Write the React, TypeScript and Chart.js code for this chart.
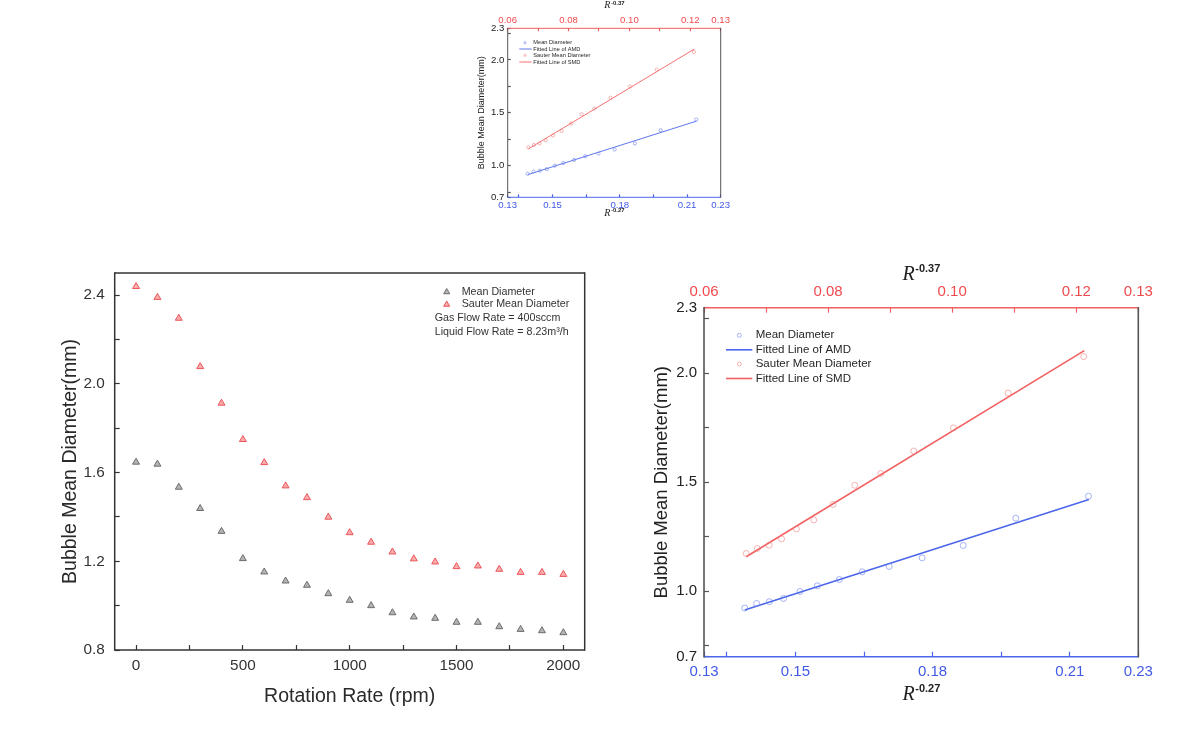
import React, { useEffect, useRef } from 'react';
import { Chart, registerables } from 'chart.js';

Chart.register(...registerables);

// left panel: bubble diameter against rotation rate
const rotationRate = [0, 100, 200, 300, 400, 500, 600, 700, 800, 900, 1000, 1100, 1200, 1300, 1400, 1500, 1600, 1700, 1800, 1900, 2000];
const meanDiameter = [1.647, 1.638, 1.534, 1.438, 1.335, 1.212, 1.152, 1.111, 1.092, 1.054, 1.024, 1.0, 0.968, 0.949, 0.943, 0.925, 0.925, 0.905, 0.893, 0.887, 0.878];
const sauterDiameter = [2.439, 2.39, 2.296, 2.078, 1.913, 1.749, 1.645, 1.54, 1.487, 1.399, 1.329, 1.286, 1.242, 1.211, 1.197, 1.176, 1.179, 1.164, 1.15, 1.15, 1.141];

const rpmTicks = [0, 250, 500, 750, 1000, 1250, 1500, 1750, 2000];
const rpmTickLabels = ['0', '', '500', '', '1000', '', '1500', '', '2000'];
const diamTicks = [0.8, 1.0, 1.2, 1.4, 1.6, 1.8, 2.0, 2.2, 2.4];
const diamTickLabels = ['0.8', '', '1.2', '', '1.6', '', '2.0', '', '2.4'];

// right panels: diameter against R^-0.27 (AMD) and R^-0.37 (SMD)
const amdR = [0.1389, 0.1415, 0.1443, 0.1474, 0.151, 0.1548, 0.1596, 0.1646, 0.1705, 0.1777, 0.1867, 0.1982, 0.2141];
const amdDiameter = [0.923, 0.944, 0.952, 0.967, 0.999, 1.025, 1.054, 1.089, 1.114, 1.153, 1.21, 1.335, 1.436];
const smdR = [0.0668, 0.0686, 0.0705, 0.0725, 0.0749, 0.0777, 0.0808, 0.0843, 0.0885, 0.0938, 0.1002, 0.109, 0.1212];
const smdDiameter = [1.173, 1.196, 1.211, 1.24, 1.286, 1.327, 1.398, 1.486, 1.54, 1.643, 1.749, 1.909, 2.076];
const amdFitR = [0.1389, 0.2142];
const amdFitDiameter = [0.914, 1.421];
const smdFitR = [0.0668, 0.1213];
const smdFitDiameter = [1.158, 2.103];

const r027Ticks = [0.13, 0.135, 0.15, 0.165, 0.18, 0.195, 0.21, 0.225];
const r027TickLabels = ['0.13', '', '0.15', '', '0.18', '', '0.21', '0.23'];
const r037Ticks = [0.06, 0.07, 0.08, 0.09, 0.1, 0.11, 0.12, 0.13];
const r037TickLabels = ['0.06', '', '0.08', '', '0.10', '', '0.12', '0.13'];
const fitDiamTicks = [0.7, 0.75, 1.0, 1.25, 1.5, 1.75, 2.0, 2.25, 2.3];
const fitDiamTickLabels = ['0.7', '', '1.0', '', '1.5', '', '2.0', '', '2.3'];

const SANS = '"Liberation Sans", Arial, sans-serif';
const SERIF = '"Liberation Serif", "Times New Roman", serif';
const RED = '#f04a4e';
const BLUE = '#4159e6';
const RED_LINE = '#f26062';
const BLUE_LINE = '#4b66ea';
const AMD_DOT = 'rgba(110,130,235,0.6)';
const SMD_DOT = 'rgba(240,130,130,0.6)';

const pairs = (xs: number[], ys: number[]) => xs.map((x, i) => ({ x, y: ys[i] }));

const setTicks = (values: number[]) => (scale: any) => {
  scale.ticks = values.map((value) => ({ value }));
};

// force the axis box to a fixed size so the plot area lands where we want it
const fixedBox = (size: number) => (scale: any) => {
  if (scale.isHorizontal()) scale.height = size;
  else scale.width = size;
  scale.paddingLeft = 0;
  scale.paddingRight = 0;
  scale.paddingTop = 0;
  scale.paddingBottom = 0;
};

function axis(o: {
  position: string; min: number; max: number; ticks: number[]; labels: string[];
  color: string; tickColor: string; box: number; font: number; tickLen: number; pad: number;
}) {
  return {
    type: 'linear',
    position: o.position,
    min: o.min,
    max: o.max,
    afterBuildTicks: setTicks(o.ticks),
    afterFit: fixedBox(o.box),
    border: { display: false },
    grid: { drawOnChartArea: false, drawTicks: true, tickLength: -o.tickLen, tickColor: o.tickColor, tickWidth: 1.2 },
    ticks: {
      autoSkip: false,
      maxRotation: 0,
      padding: o.pad,
      color: o.color,
      font: { family: SANS, size: o.font },
      callback: (_v: any, i: number) => o.labels[i] ?? '',
    },
  };
}

type Area = { left: number; right: number; top: number; bottom: number };

function frame(ctx: CanvasRenderingContext2D, a: Area, c: { top: string; right: string; bottom: string; left: string }, w: number) {
  const seg = (color: string, x1: number, y1: number, x2: number, y2: number) => {
    ctx.strokeStyle = color;
    ctx.lineWidth = w;
    ctx.beginPath();
    ctx.moveTo(x1, y1);
    ctx.lineTo(x2, y2);
    ctx.stroke();
  };
  seg(c.top, a.left, a.top, a.right, a.top);
  seg(c.bottom, a.left, a.bottom, a.right, a.bottom);
  seg(c.left, a.left, a.top - w / 2, a.left, a.bottom + w / 2);
  seg(c.right, a.right, a.top - w / 2, a.right, a.bottom + w / 2);
}

function label(ctx: CanvasRenderingContext2D, s: string, x: number, y: number, font: string, color: string, align: CanvasTextAlign = 'left') {
  ctx.font = font;
  ctx.fillStyle = color;
  ctx.textAlign = align;
  ctx.textBaseline = 'middle';
  ctx.fillText(s, x, y);
}

function vlabel(ctx: CanvasRenderingContext2D, s: string, x: number, y: number, font: string, color: string) {
  ctx.save();
  ctx.translate(x, y);
  ctx.rotate(-Math.PI / 2);
  label(ctx, s, 0, 0, font, color, 'center');
  ctx.restore();
}

// italic R with a bold superscript exponent, centred on cx
function power(ctx: CanvasRenderingContext2D, exp: string, cx: number, baseY: number, expY: number, rSize: number, eSize: number) {
  const rFont = `italic ${rSize}px ${SERIF}`;
  const eFont = `bold ${eSize}px ${SANS}`;
  ctx.font = rFont;
  const rw = ctx.measureText('R').width;
  ctx.font = eFont;
  const ew = ctx.measureText(exp).width;
  const x0 = cx - (rw + ew) / 2;
  ctx.fillStyle = '#222';
  ctx.textAlign = 'left';
  ctx.textBaseline = 'alphabetic';
  ctx.font = rFont;
  ctx.fillText('R', x0, baseY);
  ctx.font = eFont;
  ctx.fillText(exp, x0 + rw + 0.5, expY);
}

function triangle(ctx: CanvasRenderingContext2D, x: number, y: number, r: number, fill: string, stroke: string) {
  ctx.beginPath();
  ctx.moveTo(x, y - r);
  ctx.lineTo(x + r * 0.866, y + r / 2);
  ctx.lineTo(x - r * 0.866, y + r / 2);
  ctx.closePath();
  ctx.fillStyle = fill;
  ctx.fill();
  ctx.strokeStyle = stroke;
  ctx.lineWidth = 1;
  ctx.stroke();
}

const GRAY_FILL = '#b4b4b4';
const GRAY_STROKE = '#6c6c6c';
const PINK_FILL = '#f7adad';
const PINK_STROKE = '#ec5458';

function buildRpmChart(canvas: HTMLCanvasElement) {
  const decor = {
    id: 'rpmDecor',
    afterDraw(chart: any) {
      const { ctx, chartArea: a } = chart;
      ctx.save();
      frame(ctx, a, { top: '#333', right: '#333', bottom: '#333', left: '#333' }, 1.5);
      label(ctx, 'Rotation Rate (rpm)', (a.left + a.right) / 2, a.bottom + 46.7, `19.5px ${SANS}`, '#2a2a2a', 'center');
      vlabel(ctx, 'Bubble Mean Diameter(mm)', a.left - 43.7, (a.top + a.bottom) / 2, `19.5px ${SANS}`, '#2a2a2a');
      const lf = `10.7px ${SANS}`;
      const ds = chart.data.datasets;
      triangle(ctx, a.right - 138, a.top + 19, 3.5, GRAY_FILL, GRAY_STROKE);
      label(ctx, ds[0].label, a.right - 123, a.top + 19, lf, '#333');
      triangle(ctx, a.right - 138, a.top + 31.5, 3.5, PINK_FILL, PINK_STROKE);
      label(ctx, ds[1].label, a.right - 123, a.top + 31.5, lf, '#333');
      label(ctx, 'Gas Flow Rate = 400sccm', a.right - 150, a.top + 45, lf, '#333');
      label(ctx, 'Liquid Flow Rate = 8.23m³/h', a.right - 150, a.top + 59, lf, '#333');
      ctx.restore();
    },
  };

  return new Chart(canvas, {
    type: 'scatter',
    data: {
      datasets: [
        {
          label: 'Mean Diameter',
          data: pairs(rotationRate, meanDiameter),
          pointStyle: 'triangle',
          pointRadius: 4,
          backgroundColor: GRAY_FILL,
          borderColor: GRAY_STROKE,
          borderWidth: 1,
        },
        {
          label: 'Sauter Mean Diameter',
          data: pairs(rotationRate, sauterDiameter),
          pointStyle: 'triangle',
          pointRadius: 4,
          backgroundColor: PINK_FILL,
          borderColor: PINK_STROKE,
          borderWidth: 1,
        },
      ],
    },
    options: {
      animation: false,
      responsive: true,
      maintainAspectRatio: false,
      events: [],
      layout: { padding: { top: 13, right: 15.3, left: 0, bottom: 0 } },
      plugins: { legend: { display: false }, tooltip: { enabled: false } },
      scales: {
        x: axis({ position: 'bottom', min: -100, max: 2100, ticks: rpmTicks, labels: rpmTickLabels, color: '#333', tickColor: '#333', box: 80, font: 15.3, tickLen: 5, pad: 12 }),
        y: axis({ position: 'left', min: 0.8, max: 2.5, ticks: diamTicks, labels: diamTickLabels, color: '#333', tickColor: '#333', box: 114.7, font: 15.3, tickLen: 5, pad: 15 }),
      },
    } as any,
    plugins: [decor],
  });
}

interface FitLook {
  tickFont: number; tickLen: number; padTop: number; padBottom: number; padY: number;
  boxLeft: number; boxTop: number; boxBottom: number; padRight: number;
  yTitleFont: number; yTitleDx: number;
  rSize: number; eSize: number; topBase: number; topExp: number; botBase: number; botExp: number;
  legendFont: number; markerDx: number; textDx: number; lineX0: number; lineX1: number; rows: number[];
  markerR: number; lineW: number; pointR: number; frameW: number;
}

const bigLook: FitLook = {
  tickFont: 15, tickLen: 5, padTop: 11.4, padBottom: 11, padY: 12,
  boxLeft: 104, boxTop: 67.7, boxBottom: 53.3, padRight: 50.7,
  yTitleFont: 18.5, yTitleDx: -42,
  rSize: 20, eSize: 11, topBase: -27.7, topExp: -35.5, botBase: 43.3, botExp: 35,
  legendFont: 11.5, markerDx: 35.3, textDx: 51.7, lineX0: 22, lineX1: 48.3, rows: [27.6, 42.1, 56.3, 70.8],
  markerR: 2, lineW: 1.6, pointR: 3, frameW: 1.6,
};

const smallLook: FitLook = {
  tickFont: 9.6, tickLen: 3, padTop: 5.6, padBottom: 5.2, padY: 6.4,
  boxLeft: 67.7, boxTop: 28.3, boxBottom: 27.7, padRight: 19.3,
  yTitleFont: 9, yTitleDx: -26,
  rSize: 10, eSize: 6, topBase: -20, topExp: -23.3, botBase: 18.4, botExp: 15.1,
  legendFont: 5.7, markerDx: 17.3, textDx: 25.6, lineX0: 11.6, lineX1: 24, rows: [14.4, 20.7, 27, 33.7],
  markerR: 1.1, lineW: 0.9, pointR: 1.6, frameW: 1,
};

function buildFitChart(canvas: HTMLCanvasElement, k: FitLook) {
  const decor = {
    id: 'fitDecor',
    afterDraw(chart: any) {
      const { ctx, chartArea: a } = chart;
      const mid = (a.left + a.right) / 2;
      ctx.save();
      frame(ctx, a, { top: RED_LINE, right: '#555', bottom: BLUE_LINE, left: '#555' }, k.frameW);
      vlabel(ctx, 'Bubble Mean Diameter(mm)', a.left + k.yTitleDx, (a.top + a.bottom) / 2, `${k.yTitleFont}px ${SANS}`, '#222');
      power(ctx, '-0.37', mid, a.top + k.topBase, a.top + k.topExp, k.rSize, k.eSize);
      power(ctx, '-0.27', mid, a.bottom + k.botBase, a.bottom + k.botExp, k.rSize, k.eSize);

      const ds = chart.data.datasets;
      const lf = `${k.legendFont}px ${SANS}`;
      const kinds = ['dot', 'line', 'dot', 'line'];
      const colors = [AMD_DOT, BLUE_LINE, SMD_DOT, RED_LINE];
      kinds.forEach((kind, i) => {
        const y = a.top + k.rows[i];
        if (kind === 'dot') {
          ctx.beginPath();
          ctx.arc(a.left + k.markerDx, y, k.markerR, 0, Math.PI * 2);
          ctx.strokeStyle = colors[i];
          ctx.lineWidth = 1;
          ctx.stroke();
        } else {
          ctx.beginPath();
          ctx.moveTo(a.left + k.lineX0, y);
          ctx.lineTo(a.left + k.lineX1, y);
          ctx.strokeStyle = colors[i];
          ctx.lineWidth = k.lineW;
          ctx.stroke();
        }
        label(ctx, ds[i].label, a.left + k.textDx, y, lf, '#262626');
      });
      ctx.restore();
    },
  };

  return new Chart(canvas, {
    type: 'scatter',
    data: {
      datasets: [
        {
          label: 'Mean Diameter',
          data: pairs(amdR, amdDiameter),
          xAxisID: 'x',
          pointRadius: k.pointR,
          borderColor: AMD_DOT,
          backgroundColor: 'rgba(255,255,255,0)',
          borderWidth: 1,
        },
        {
          label: 'Fitted Line of AMD',
          data: pairs(amdFitR, amdFitDiameter),
          xAxisID: 'x',
          showLine: true,
          pointRadius: 0,
          borderColor: BLUE_LINE,
          borderWidth: k.lineW,
        },
        {
          label: 'Sauter Mean Diameter',
          data: pairs(smdR, smdDiameter),
          xAxisID: 'x2',
          pointRadius: k.pointR,
          borderColor: SMD_DOT,
          backgroundColor: 'rgba(255,255,255,0)',
          borderWidth: 1,
        },
        {
          label: 'Fitted Line of SMD',
          data: pairs(smdFitR, smdFitDiameter),
          xAxisID: 'x2',
          showLine: true,
          pointRadius: 0,
          borderColor: RED_LINE,
          borderWidth: k.lineW,
        },
      ],
    },
    options: {
      animation: false,
      responsive: true,
      maintainAspectRatio: false,
      events: [],
      layout: { padding: { top: 0, right: k.padRight, left: 0, bottom: 0 } },
      plugins: { legend: { display: false }, tooltip: { enabled: false } },
      scales: {
        x: axis({ position: 'bottom', min: 0.13, max: 0.225, ticks: r027Ticks, labels: r027TickLabels, color: BLUE, tickColor: BLUE_LINE, box: k.boxBottom, font: k.tickFont, tickLen: k.tickLen, pad: k.padBottom }),
        x2: axis({ position: 'top', min: 0.06, max: 0.13, ticks: r037Ticks, labels: r037TickLabels, color: RED, tickColor: RED_LINE, box: k.boxTop, font: k.tickFont, tickLen: k.tickLen, pad: k.padTop }),
        y: axis({ position: 'left', min: 0.7, max: 2.3, ticks: fitDiamTicks, labels: fitDiamTickLabels, color: '#222', tickColor: '#555', box: k.boxLeft, font: k.tickFont, tickLen: k.tickLen, pad: k.padY }),
      },
    } as any,
    plugins: [decor],
  });
}

function Panel({ left, top, width, height, build }: { left: number; top: number; width: number; height: number; build: (c: HTMLCanvasElement) => Chart }) {
  const canvasRef = useRef<HTMLCanvasElement | null>(null);

  useEffect(() => {
    if (!canvasRef.current) return;
    const chart = build(canvasRef.current);
    return () => chart.destroy();
  }, []);

  return (
    <div style={{ position: 'absolute', left, top, width, height }}>
      <canvas ref={canvasRef}></canvas>
    </div>
  );
}

export default function App() {
  return (
    <div style={{ position: 'absolute', left: 0, top: 0, width: 1189, height: 730, overflow: 'hidden', background: '#fff' }}>
      <Panel left={440} top={0} width={300} height={225} build={(c) => buildFitChart(c, smallLook)} />
      <Panel left={0} top={260} width={600} height={470} build={buildRpmChart} />
      <Panel left={600} top={240} width={589} height={470} build={(c) => buildFitChart(c, bigLook)} />
    </div>
  );
}
